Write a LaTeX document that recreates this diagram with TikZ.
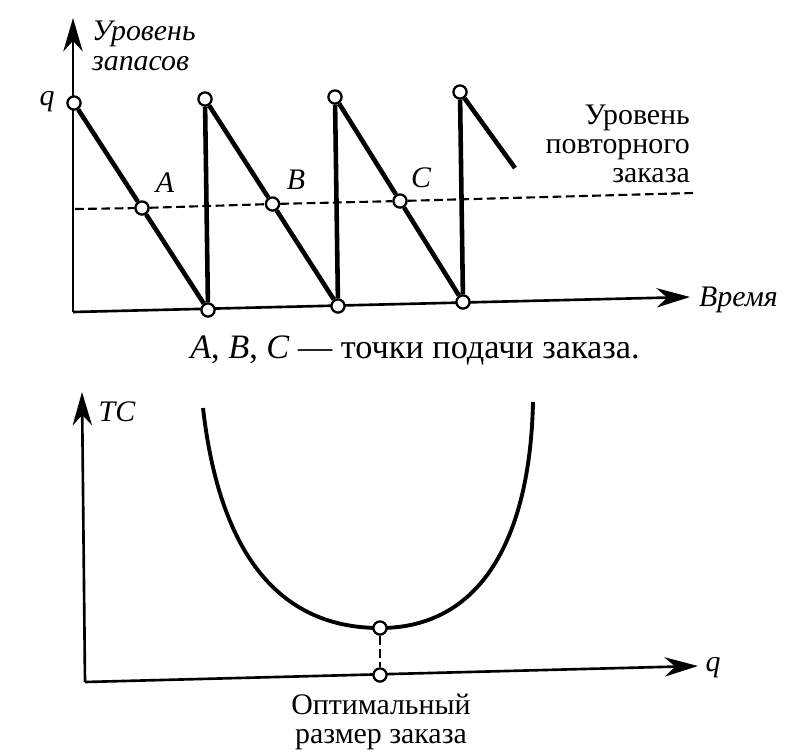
\documentclass[tikz,border=0pt]{standalone}
\usepackage{fontspec}
\setmainfont{Liberation Serif}
\usetikzlibrary{arrows.meta}
\begin{document}
\begin{tikzpicture}[x=0.02cm,y=-0.02cm,
 axis/.style={line width=1.5pt,-{Stealth[length=19pt,width=11pt,inset=6pt]}},
 saw/.style={line width=2.6pt},
 cost/.style={line width=2.2pt},
 pt/.style={circle,draw,fill=white,line width=1.3pt,inner sep=0pt,minimum size=7.5pt},
 lvl/.style={line width=1.2pt,dash pattern=on 5pt off 2.5pt},
 lbl/.style={font=\fontsize{17}{16.5}\selectfont},
 ilbl/.style={font=\fontsize{17}{17}\selectfont\itshape}]
\useasboundingbox (0,0) rectangle (792,755);
\coordinate (o1) at (73,312);
\coordinate (y1) at (73,18);
\coordinate (x1) at (690,297);
\draw[axis] (o1) -- (y1);
\draw[axis] (o1) -- (x1);
\node[pt] (q0) at (74,103) {};
\node[pt] (b1) at (208,310) {};
\node[pt] (t1) at (205,99) {};
\node[pt] (b2) at (338,306) {};
\node[pt] (t2) at (335,97) {};
\node[pt] (b3) at (463,302) {};
\node[pt] (t3) at (460,92) {};
\coordinate (e3) at (515,168);
\coordinate (r0) at (75,209);
\coordinate (r1) at (693,193);
\node[pt] (A) at (142,208) {};
\node[pt] (B) at (272.5,204) {};
\node[pt] (C) at (400,201) {};
\draw[saw] (q0) -- (A) -- (b1) -- (t1) -- (B) -- (b2) -- (t2) -- (C) -- (b3) -- (t3) -- (e3);
\draw[lvl] (r0) -- (A) -- (B) -- (C) -- (r1);
\node[ilbl] (lq) at (47,102) {q};
\node[ilbl] (lA) at (165,183) {A};
\node[ilbl] (lB) at (296,180) {B};
\node[ilbl] (lC) at (421,178) {C};
\node[ilbl,anchor=west,align=left] (ly) at (86,46) {Уровень\\запасов};
\node[ilbl,anchor=west] (lt) at (693,300) {Время};
\node[lbl,anchor=east,align=right] (lr) at (696,144) {Уровень\\повторного\\заказа};
\node[font=\fontsize{19.5}{20}\selectfont] (cap) at (415,350) {\textit{A}, \textit{B}, \textit{C} — точки подачи заказа.};
\coordinate (o2) at (85,682);
\coordinate (y2) at (82,392);
\coordinate (x2) at (698,666);
\draw[axis] (o2) -- (y2);
\draw[axis] (o2) -- (x2);
\coordinate (c1) at (203,408);
\coordinate (c2) at (533,402);
\coordinate (m) at (380,628);
\draw[cost] (c1) .. controls (218,540) and (270,628) .. (m) .. controls (480,628) and (530,540) .. (c2);
\node[pt] (m1) at (m) {};
\node[pt] (m0) at (380,675) {};
\draw[lvl] (m1) -- (m0);
\node[ilbl] (ltc) at (117,412) {TC};
\node[ilbl] (lq2) at (713,668) {q};
\node[lbl,align=center] (lopt) at (381,722) {Оптимальный\\размер заказа};
\end{tikzpicture}
\end{document}
